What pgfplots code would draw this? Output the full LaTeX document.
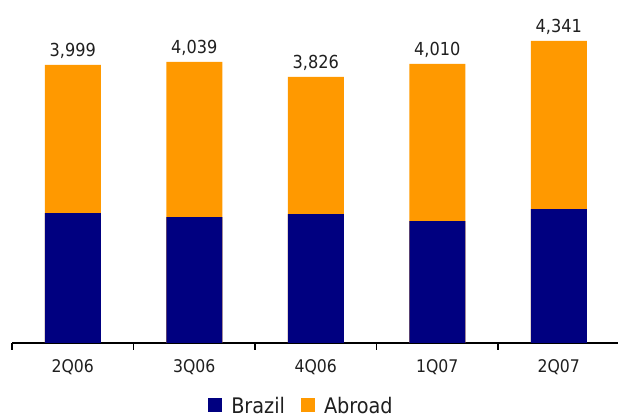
\documentclass[border=0pt]{standalone}
\usepackage{fontspec}
\setmainfont{DejaVu Sans Condensed}
\usepackage{pgfplots}
\pgfplotsset{compat=1.18}
\definecolor{navyc}{HTML}{000080}
\definecolor{orngc}{HTML}{FF9900}
\begin{document}
\begin{tikzpicture}
\path[use as bounding box] (0,0) rectangle (618bp,419bp);
\begin{axis}[
  at={(12bp,76bp)}, anchor=south west,
  scale only axis, width=607.5bp, height=333bp,
  xmin=0.5, xmax=5.5, ymin=0, ymax=4786,
  ybar, bar width=56bp, bar shift=0pt,
  axis x line=bottom, axis y line=none,
  x axis line style={-, line width=1.6bp, black},
  tick align=outside,
  major tick length=0pt,
  xtick={1,2,3,4,5}, xticklabels={2Q06,3Q06,4Q06,1Q07,2Q07},
  extra x ticks={0.5,1.5,2.5,3.5,4.5,5.5}, extra x tick labels={},
  extra x tick style={major tick length=6.5bp, major tick style={black, line width=1.3bp}},
  xticklabel style={font=\fontsize{17.5}{20}\selectfont, text=black!88, anchor=base, yshift=-30bp},
  reverse legend,
  legend style={draw=none, fill=none, legend columns=-1,
    at={(axis description cs:0.4765,-0.2282)}, anchor=south, yshift=1.5bp,
    font=\fontsize{21.5}{24}\selectfont, text=black!88, inner sep=0pt,
    /tikz/every odd column/.append style={column sep=7bp},
    /tikz/every even column/.append style={column sep=14bp}},
  every node near coord/.append style={font=\fontsize{18}{20}\selectfont, text=black!88, anchor=base, yshift=8bp},
]
% total (Brazil + Abroad)
\addplot[fill=orngc, draw=none, nodes near coords, point meta=explicit symbolic,
  legend image code/.code={\fill[orngc] (0bp,-6bp) rectangle (14bp,8bp);}]
  coordinates {(1,3999) [3,999] (2,4039) [4,039] (3,3826) [3,826] (4,4010) [4,010] (5,4341) [4,341]};
\addlegendentry{Abroad}
% Brazil
\addplot[fill=navyc, draw=none, legend image code/.code={\fill[navyc] (0bp,-6bp) rectangle (14bp,8bp);}]
  coordinates {(1,1868) (2,1810) (3,1853) (4,1753) (5,1925)};
\addlegendentry{Brazil}
\end{axis}
\end{tikzpicture}
\end{document}
